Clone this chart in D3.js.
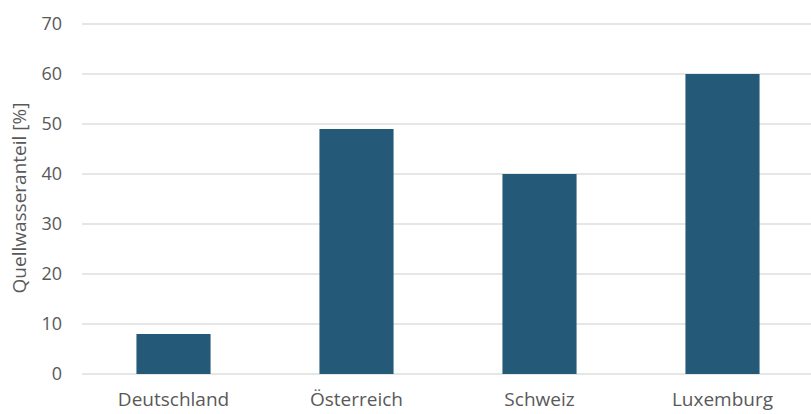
<!DOCTYPE html>
<html>
<head>
<meta charset="utf-8">
<script src="https://cdn.jsdelivr.net/npm/d3@7"></script>
<style>
  body { margin: 0; background: #fff; }
  svg text { font-family: "Open Sans", sans-serif; fill: #595959; }
</style>
</head>
<body>
<div id="chart"></div>
<script>
// Data
const countries = ["Deutschland", "Österreich", "Schweiz", "Luxemburg"];
const shares = [8, 49, 40, 60];
const yTicks = [0, 10, 20, 30, 40, 50, 60, 70];

const W = 811, H = 414;
const margin = { top: 24, right: -3, bottom: 40, left: 82 },
    width = W - margin.left - margin.right,
    height = H - margin.top - margin.bottom;

const svg = d3.select("#chart")
    .append("svg")
    .attr("width", W)
    .attr("height", H)
    .append("g")
    .attr("transform", "translate(" + margin.left + "," + margin.top + ")");

const x = d3.scaleBand()
    .domain(countries)
    .range([0, width])
    .paddingInner(0.595)
    .paddingOuter(0.2975);

const y = d3.scaleLinear()
    .domain([0, 70])
    .range([height, 0]);

// gridlines
svg.append("g")
    .selectAll("line")
    .data(yTicks)
    .join("line")
    .attr("x1", 0)
    .attr("x2", width)
    .attr("y1", d => y(d))
    .attr("y2", d => y(d))
    .attr("stroke", "#dedede")
    .attr("stroke-width", 1.3);

// y axis labels
svg.append("g")
    .call(d3.axisLeft(y).tickValues(yTicks).tickSize(0).tickPadding(20))
    .call(g => g.select(".domain").remove())
    .call(g => g.selectAll("text")
        .style("font-size", "18px")
        .attr("fill", "#595959"));

// bars
svg.selectAll(".bar")
    .data(shares)
    .join("rect")
    .attr("class", "bar")
    .attr("x", (d, i) => x(countries[i]))
    .attr("y", d => y(d))
    .attr("width", x.bandwidth())
    .attr("height", d => height - y(d))
    .attr("fill", "#245a78");

// x axis labels
svg.append("g")
    .attr("transform", "translate(0," + height + ")")
    .call(d3.axisBottom(x).tickSize(0).tickPadding(19))
    .call(g => g.select(".domain").remove())
    .call(g => g.selectAll("text")
        .style("font-size", "19px")
        .attr("fill", "#595959"));

// y axis title
svg.append("text")
    .attr("transform", "rotate(-90)")
    .attr("x", -(198 - margin.top))
    .attr("y", -margin.left + 26)
    .attr("text-anchor", "middle")
    .style("font-size", "19px")
    .text("Quellwasseranteil [%]");
</script>
</body>
</html>
